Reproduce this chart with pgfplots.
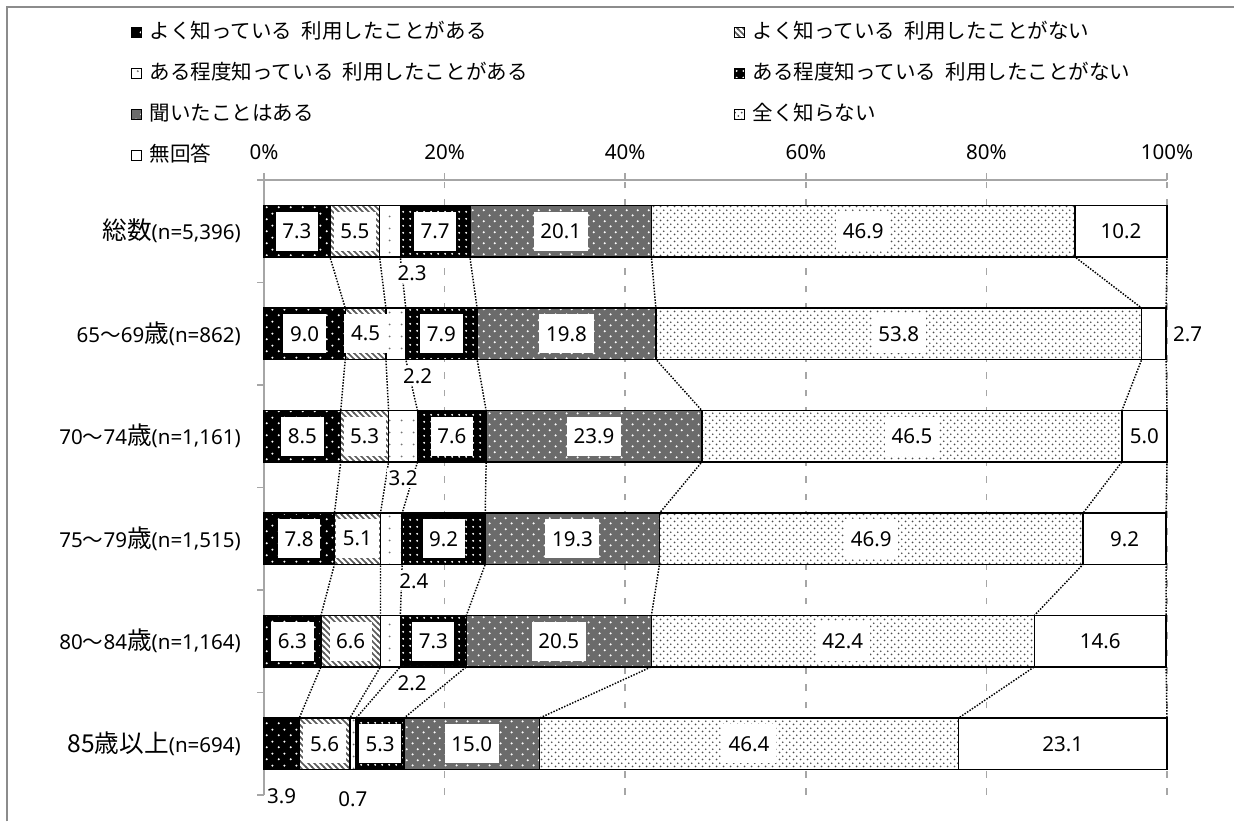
\documentclass[border=0pt]{standalone}
\usepackage{fontspec}
\setmainfont{Noto Sans}
\newfontfamily\jp{Noto Sans CJK JP}
\newfontfamily\jpb{Noto Sans CJK JP}[Scale=1.2]
\usepackage{pgfplots}
\pgfplotsset{compat=1.18}
\usepackage{pgfplotstable}
\usetikzlibrary{patterns}

% rows: 総数, 65-69, 70-74, 75-79, 80-84, 85+
\pgfplotstableread{
a b c d e f g
7.3 5.5 2.3 7.7 20.1 46.9 10.2
9.0 4.5 2.2 7.9 19.8 53.8 2.7
8.5 5.3 3.2 7.6 23.9 46.5 5.0
7.8 5.1 2.4 9.2 19.3 46.9 9.2
6.3 6.6 2.2 7.3 20.5 42.4 14.6
3.9 5.6 0.7 5.3 15.0 46.4 23.1
}\data
% cumulative ends of the segments
\pgfplotstablecreatecol[expr={\thisrow{a}}]{ca}\data
\pgfplotstablecreatecol[expr={\thisrow{ca}+\thisrow{b}}]{cb}\data
\pgfplotstablecreatecol[expr={\thisrow{cb}+\thisrow{c}}]{cc}\data
\pgfplotstablecreatecol[expr={\thisrow{cc}+\thisrow{d}}]{cd}\data
\pgfplotstablecreatecol[expr={\thisrow{cd}+\thisrow{e}}]{ce}\data
\pgfplotstablecreatecol[expr={\thisrow{ce}+\thisrow{f}}]{cf}\data
\pgfplotstablecreatecol[expr={\thisrow{cf}+\thisrow{g}}]{cg}\data

% fill patterns
\pgfdeclarepatternformonly{dotsA}{\pgfqpoint{0pt}{0pt}}{\pgfqpoint{9pt}{9pt}}{\pgfqpoint{9pt}{9pt}}{%
  \pgfpathcircle{\pgfqpoint{2.25pt}{2.25pt}}{0.9pt}\pgfpathcircle{\pgfqpoint{6.75pt}{6.75pt}}{0.9pt}\pgfusepath{fill}}
\pgfdeclarepatternformonly{dotsC}{\pgfqpoint{0pt}{0pt}}{\pgfqpoint{9pt}{9pt}}{\pgfqpoint{9pt}{9pt}}{%
  \pgfpathcircle{\pgfqpoint{4.5pt}{4.5pt}}{0.8pt}\pgfusepath{fill}}
\pgfdeclarepatternformonly{dotsD}{\pgfqpoint{0pt}{0pt}}{\pgfqpoint{5pt}{5pt}}{\pgfqpoint{5pt}{5pt}}{%
  \pgfpathcircle{\pgfqpoint{2.5pt}{2.5pt}}{0.8pt}\pgfusepath{fill}}
\pgfdeclarepatternformonly{dotsE}{\pgfqpoint{0pt}{0pt}}{\pgfqpoint{8pt}{8pt}}{\pgfqpoint{8pt}{8pt}}{%
  \pgfpathcircle{\pgfqpoint{2pt}{2pt}}{0.9pt}\pgfpathcircle{\pgfqpoint{6pt}{6pt}}{0.9pt}\pgfusepath{fill}}
\pgfdeclarepatternformonly{dotsF}{\pgfqpoint{0pt}{0pt}}{\pgfqpoint{5pt}{5pt}}{\pgfqpoint{5pt}{5pt}}{%
  \pgfpathcircle{\pgfqpoint{1.25pt}{1.25pt}}{0.75pt}\pgfpathcircle{\pgfqpoint{3.75pt}{3.75pt}}{0.75pt}\pgfusepath{fill}}
\pgfdeclarepatternformonly{hatchB}{\pgfqpoint{-1pt}{-1pt}}{\pgfqpoint{5.5pt}{5.5pt}}{\pgfqpoint{4.5pt}{4.5pt}}{%
  \pgfsetlinewidth{1.3pt}\pgfpathmoveto{\pgfqpoint{-0.5pt}{5pt}}\pgfpathlineto{\pgfqpoint{5pt}{-0.5pt}}\pgfusepath{stroke}}

\tikzset{
  % legend swatches
  sa/.style={fill=black, postaction={pattern=dotsA, pattern color=white}},
  sb/.style={fill=white, postaction={pattern=hatchB, pattern color=black!65}},
  sc/.style={fill=white, postaction={pattern=dotsC, pattern color=black!55}},
  sd/.style={fill=black, postaction={pattern=dotsD, pattern color=white}},
  se/.style={fill=black!58, postaction={pattern=dotsE, pattern color=white}},
  sf/.style={fill=white, postaction={pattern=dotsF, pattern color=black!70}},
  sg/.style={fill=white},
  lbl/.style={fill=white, inner xsep=5pt, inner ysep=0pt, minimum height=29pt, anchor=center},
  olbl/.style={fill=white, inner sep=1.5pt, anchor=center},
}
\pgfplotsset{
  hb/.style={forget plot, xbar, bar width=0.5, bar shift=0pt},
  base/.style={hb, draw=none, fill=#1},
  pat/.style 2 args={hb, draw=none, pattern=#1, pattern color=#2},
  edge/.style={hb, fill=none, draw=black, line width=1.1pt},
  sline/.style={forget plot, black, line width=1.1pt, dash pattern=on 1.1pt off 1.1pt},
  vals/.style={forget plot, only marks, mark=text, text mark={},
    point meta=explicit symbolic, nodes near coords, nodes near coords style={#1}},
}

\begin{document}
\fontsize{15.4pt}{18pt}\selectfont
\begin{tikzpicture}
\path[use as bounding box] (0,0) rectangle (925.5pt,-615.75pt);
\draw[gray!90, line width=1.5pt] (5.6pt,-616pt) -- (5.6pt,-5.6pt) -- (926pt,-5.6pt);
\begin{axis}[
  at={(198pt,-135pt)}, anchor=north west,
  scale only axis, width=677.25pt, height=461.25pt,
  xmin=0, xmax=100, ymin=-0.5, ymax=5.5,
  clip=false,
  axis x line*=top, axis y line*=left,
  axis line style={draw=gray!70, line width=1.2pt},
  tick align=outside, major tick length=5.25pt,
  tick style={draw=gray!70, line width=1.2pt},
  xtick={0,20,...,100}, xticklabels={0\%,20\%,40\%,60\%,80\%,100\%},
  xticklabel style={yshift=4.5pt},
  xmajorgrids,
  major grid style={draw=gray!70, line width=1.2pt, dash pattern=on 5pt off 8pt},
  ytick={-0.5,0.5,...,5.5}, yticklabels={},
  extra y ticks={0,1,2,3,4,5},
  extra y tick labels={
    {{\jpb 85歳以上}(n=694)},
    {80{\jp ～}84{\jpb 歳}(n=1,164)},
    {75{\jp ～}79{\jpb 歳}(n=1,515)},
    {70{\jp ～}74{\jpb 歳}(n=1,161)},
    {65{\jp ～}69{\jpb 歳}(n=862)},
    {{\jpb 総数}(n=5,396)}},
  extra y tick style={major tick length=0pt},
  yticklabel style={xshift=-12pt},
  legend columns=2,
  legend cell align=left,
  legend style={at={(-0.1473,1.2561)}, anchor=north west, draw=none, fill=none,
    inner sep=0pt, outer sep=0pt, row sep=15.75pt,
    nodes={inner sep=0pt, text height=12pt, text depth=3pt, anchor=west},
    /tikz/every odd column/.append style={column sep=6pt}},
  legend image code/.code={\draw[#1, draw=black, line width=0.6pt] (0pt,-3.75pt) rectangle (7.5pt,3.75pt);},
]
\addlegendimage{sa}\addlegendentry{\makebox[438pt][l]{\jp よく知っている\hspace{0.45em}利用したことがある}}
\addlegendimage{sb}\addlegendentry{\jp よく知っている\hspace{0.45em}利用したことがない}
\addlegendimage{sc}\addlegendentry{\makebox[438pt][l]{\jp ある程度知っている\hspace{0.45em}利用したことがある}}
\addlegendimage{sd}\addlegendentry{\jp ある程度知っている\hspace{0.45em}利用したことがない}
\addlegendimage{se}\addlegendentry{\makebox[438pt][l]{\jp 聞いたことはある}}
\addlegendimage{sf}\addlegendentry{\jp 全く知らない}
\addlegendimage{sg}\addlegendentry{\makebox[438pt][l]{\jp 無回答}}

% series lines between the bars (bar corners, top to bottom)
\addplot[sline] coordinates {(7.3,5.25)(7.3,4.75)(9.0,4.25)(9.0,3.75)(8.5,3.25)(8.5,2.75)(7.8,2.25)(7.8,1.75)(6.3,1.25)(6.3,0.75)(3.9,0.25)(3.9,-0.25)};
\addplot[sline] coordinates {(12.8,5.25)(12.8,4.75)(13.5,4.25)(13.5,3.75)(13.8,3.25)(13.8,2.75)(12.9,2.25)(12.9,1.75)(12.9,1.25)(12.9,0.75)(9.5,0.25)(9.5,-0.25)};
\addplot[sline] coordinates {(15.1,5.25)(15.1,4.75)(15.7,4.25)(15.7,3.75)(17.0,3.25)(17.0,2.75)(15.3,2.25)(15.3,1.75)(15.1,1.25)(15.1,0.75)(10.2,0.25)(10.2,-0.25)};
\addplot[sline] coordinates {(22.8,5.25)(22.8,4.75)(23.6,4.25)(23.6,3.75)(24.6,3.25)(24.6,2.75)(24.5,2.25)(24.5,1.75)(22.4,1.25)(22.4,0.75)(15.5,0.25)(15.5,-0.25)};
\addplot[sline] coordinates {(42.9,5.25)(42.9,4.75)(43.4,4.25)(43.4,3.75)(48.5,3.25)(48.5,2.75)(43.8,2.25)(43.8,1.75)(42.9,1.25)(42.9,0.75)(30.5,0.25)(30.5,-0.25)};
\addplot[sline] coordinates {(89.8,5.25)(89.8,4.75)(97.2,4.25)(97.2,3.75)(95.0,3.25)(95.0,2.75)(90.7,2.25)(90.7,1.75)(85.3,1.25)(85.3,0.75)(76.9,0.25)(76.9,-0.25)};
\addplot[sline] coordinates {(100,5.25)(100,4.75)(99.9,4.25)(99.9,3.75)(100,3.25)(100,2.75)(99.9,2.25)(99.9,1.75)(99.9,1.25)(99.9,0.75)(100,0.25)(100,-0.25)};

% bars, longest first, each from 0 to its cumulative end: fill, then pattern
\addplot[base=white] table[x=cg, y expr=5-\coordindex] {\data};
\addplot[base=white] table[x=cf, y expr=5-\coordindex] {\data};
\addplot[pat={dotsF}{black!70}] table[x=cf, y expr=5-\coordindex] {\data};
\addplot[base=black!58] table[x=ce, y expr=5-\coordindex] {\data};
\addplot[pat={dotsE}{white}] table[x=ce, y expr=5-\coordindex] {\data};
\addplot[base=black] table[x=cd, y expr=5-\coordindex] {\data};
\addplot[pat={dotsD}{white}] table[x=cd, y expr=5-\coordindex] {\data};
\addplot[base=white] table[x=cc, y expr=5-\coordindex] {\data};
\addplot[pat={dotsC}{black!55}] table[x=cc, y expr=5-\coordindex] {\data};
\addplot[base=white] table[x=cb, y expr=5-\coordindex] {\data};
\addplot[pat={hatchB}{black!65}] table[x=cb, y expr=5-\coordindex] {\data};
\addplot[base=black] table[x=ca, y expr=5-\coordindex] {\data};
\addplot[pat={dotsA}{white}] table[x=ca, y expr=5-\coordindex] {\data};
% outlines of the segments
\addplot[edge] table[x=cg, y expr=5-\coordindex] {\data};
\addplot[edge] table[x=cf, y expr=5-\coordindex] {\data};
\addplot[edge] table[x=ce, y expr=5-\coordindex] {\data};
\addplot[edge] table[x=cd, y expr=5-\coordindex] {\data};
\addplot[edge] table[x=cc, y expr=5-\coordindex] {\data};
\addplot[edge] table[x=cb, y expr=5-\coordindex] {\data};
\addplot[edge] table[x=ca, y expr=5-\coordindex] {\data};

% value labels inside the segments
\addplot[vals=lbl, skip coords between index={5}{6}] table[x expr=\thisrow{ca}-\thisrow{a}/2, y expr=5-\coordindex, meta=a] {\data};
\addplot[vals=lbl] table[x expr=\thisrow{cb}-\thisrow{b}/2, y expr=5-\coordindex, meta=b] {\data};
\addplot[vals=lbl] table[x expr=\thisrow{cd}-\thisrow{d}/2, y expr=5-\coordindex, meta=d] {\data};
\addplot[vals=lbl] table[x expr=\thisrow{ce}-\thisrow{e}/2, y expr=5-\coordindex, meta=e] {\data};
\addplot[vals=lbl] table[x expr=\thisrow{cf}-\thisrow{f}/2, y expr=5-\coordindex, meta=f] {\data};
\addplot[vals=lbl, skip coords between index={1}{2}] table[x expr=\thisrow{cg}-\thisrow{g}/2, y expr=5-\coordindex, meta=g] {\data};
% labels outside the small segments
\addplot[vals=olbl] table[x expr={(\coordindex==2 || \coordindex==5) ? \thisrow{cc}-\thisrow{c}/2 : \thisrow{cc}+1.3},
  y expr={5-\coordindex-(\coordindex==5 ? 0.54 : 0.41)}, meta=c] {\data};
\addplot[vals=olbl, skip coords between index={0}{5}] table[x expr=\thisrow{ca}/2, y expr=5-\coordindex-0.51, meta=a] {\data};
\addplot[vals={olbl, anchor=west, xshift=3.5pt}, restrict y to domain=3.9:4.1] table[x=cg, y expr=5-\coordindex, meta=g] {\data};
\end{axis}
\end{tikzpicture}
\end{document}
